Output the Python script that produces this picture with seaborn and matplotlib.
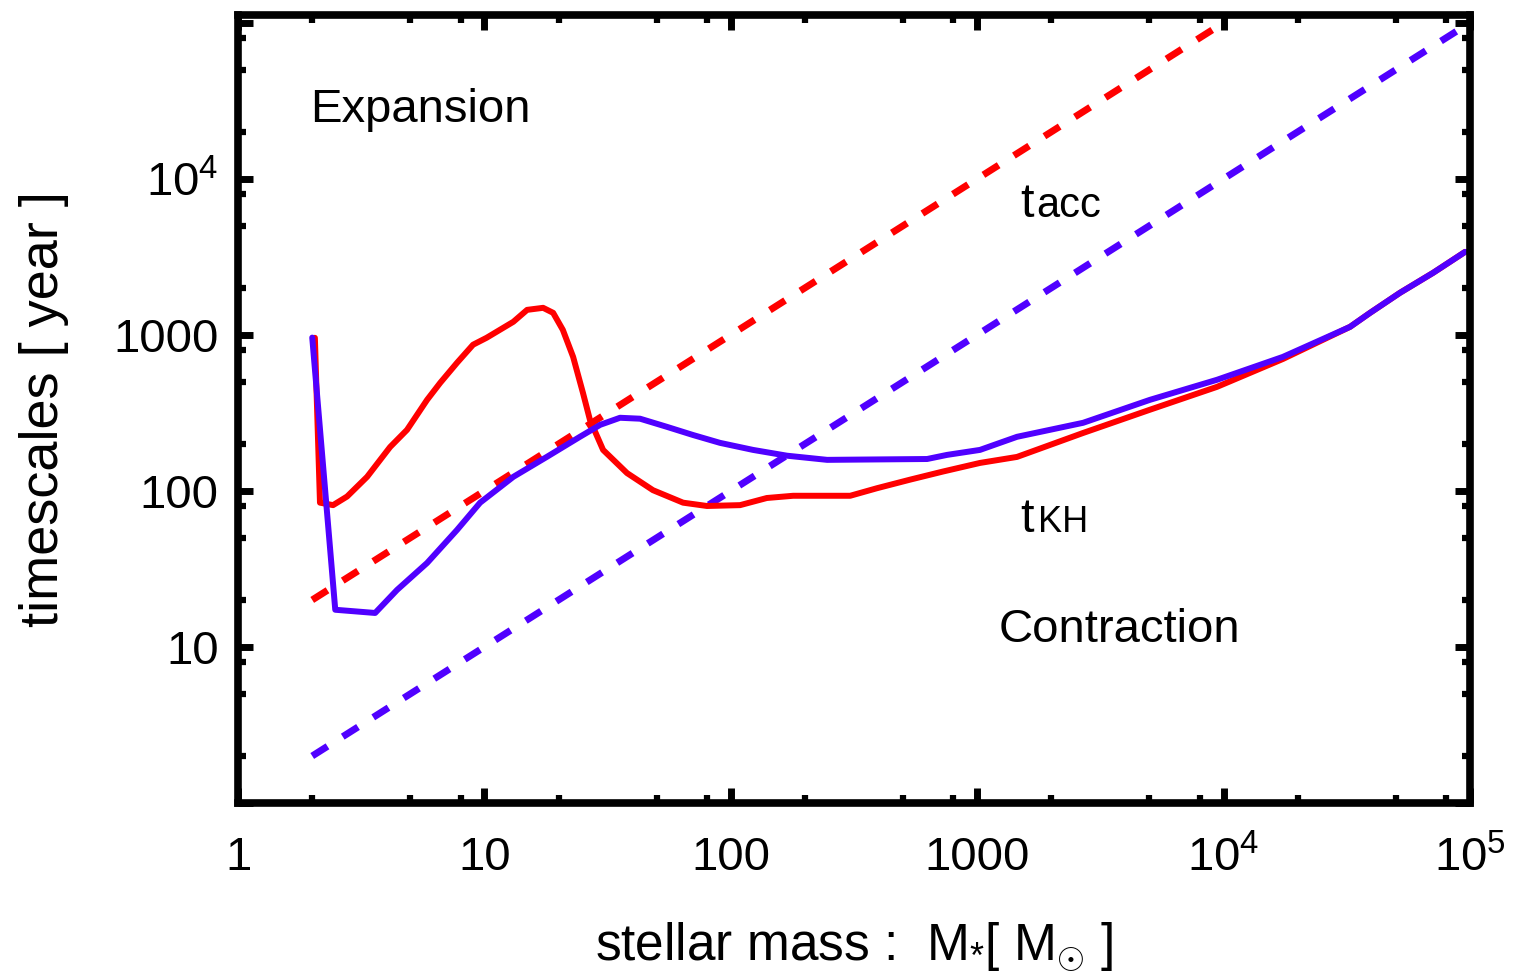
import numpy as np
import pandas as pd
import matplotlib
matplotlib.use("Agg")
import matplotlib.pyplot as plt
import seaborn as sns
from matplotlib.ticker import FixedLocator, FixedFormatter, NullFormatter

# stellar mass [Msun] vs timescales [yr]
# KH timescale, red run
red_mass = [2.05, 2.15, 2.43, 2.77, 3.34, 4.14, 4.85, 5.85, 6.61, 7.74, 8.99, 10.2,
            13.1, 14.9, 17.3, 19.0, 20.8, 22.9, 25.1, 26.8, 30.3, 37.9, 48.3, 64.0,
            80.0, 109, 140, 179, 305, 392, 534, 726, 1026, 1450, 2690, 5020, 9400,
            17400, 32600, 39300, 52000, 70800, 95500]
red_tkh = [957, 84, 81, 92, 123, 191, 246, 383, 492, 662, 864, 957,
           1212, 1445, 1489, 1383, 1076, 722, 425, 285, 183, 130, 101, 84,
           80, 81, 90, 93, 93, 104, 118, 133, 151, 165, 235, 331, 464,
           700, 1125, 1383, 1860, 2495, 3400]

# KH timescale, blue run
blue_mass = [2.0, 2.48, 3.60, 4.42, 5.85, 7.74, 9.60, 13.1, 17.9, 24.4, 29.5, 35.5,
             42.8, 55.1, 70.2, 90.4, 123, 169, 246, 626, 754, 1026, 1450, 2690,
             5020, 9400, 17400, 32600, 39300, 52000, 70800, 95500]
blue_tkh = [960, 17.3, 16.5, 23.2, 34.5, 56.2, 84, 123, 165, 222, 265, 294,
            290, 257, 228, 203, 183, 168, 158, 160, 170, 183, 222, 273,
            383, 515, 722, 1125, 1383, 1860, 2495, 3400]

# accretion timescales (dashed)
red_acc_mass = [2, 1e4]
red_tacc = [20, 1e5]
blue_acc_mass = [2, 1e5]
blue_tacc = [2, 1e5]

x_ticks = [1, 10, 100, 1000, 1e4, 1e5]
x_labels = ["1", "10", "100", "1000", r"$10^4$", r"$10^5$"]
y_ticks = [1, 10, 100, 1000, 1e4, 1e5]
y_labels = ["", "10", "100", "1000", r"$10^4$", ""]

RED = "#FF0000"
BLUE = "#5000FF"

sns.set_style("ticks")
plt.rcParams["font.family"] = ["Liberation Sans", "DejaVu Sans"]
plt.rcParams["mathtext.fontset"] = "custom"
plt.rcParams["mathtext.rm"] = "Liberation Sans"
plt.rcParams["mathtext.it"] = "Liberation Sans:italic"
plt.rcParams["mathtext.bf"] = "Liberation Sans:bold"
plt.rcParams["text.color"] = "black"
plt.rcParams["axes.labelcolor"] = "black"

fig = plt.figure(figsize=(15.3, 9.76), dpi=100)
ax = fig.add_axes([0.1556, 0.1773, 0.8052, 0.8073])

dash = (0, (2.6, 2.6))
sns.lineplot(x=red_acc_mass, y=red_tacc, ax=ax, color=RED, lw=5, linestyle=dash,
             sort=False, estimator=None)
sns.lineplot(x=blue_acc_mass, y=blue_tacc, ax=ax, color=BLUE, lw=5, linestyle=dash,
             sort=False, estimator=None)
sns.lineplot(x=red_mass, y=red_tkh, ax=ax, color=RED, lw=4.3,
             sort=False, estimator=None)
sns.lineplot(x=blue_mass, y=blue_tkh, ax=ax, color=BLUE, lw=4.3,
             sort=False, estimator=None)

ax.set_xscale("log")
ax.set_yscale("log")
ax.set_xlim(1, 1e5)
ax.set_ylim(1, 1.12e5)

ax.xaxis.set_major_locator(FixedLocator(x_ticks))
ax.xaxis.set_major_formatter(FixedFormatter(x_labels))
ax.yaxis.set_major_locator(FixedLocator(y_ticks))
ax.yaxis.set_major_formatter(FixedFormatter(y_labels))
minor = [m * 10 ** k for k in range(0, 5) for m in (2, 5, 8)]
ax.xaxis.set_minor_locator(FixedLocator(minor))
ax.yaxis.set_minor_locator(FixedLocator(minor))
ax.xaxis.set_minor_formatter(NullFormatter())
ax.yaxis.set_minor_formatter(NullFormatter())

ax.tick_params(which="both", direction="in", top=True, right=True,
               color="black", labelcolor="black")
ax.tick_params(which="major", length=11, width=5, labelsize=34)
ax.tick_params(which="minor", length=5.5, width=4.5)
ax.tick_params(axis="x", which="major", pad=24)
ax.tick_params(axis="y", which="major", pad=14)
for s in ax.spines.values():
    s.set_linewidth(5.5)
    s.set_color("black")

ax.set_xlabel(r"stellar mass :  M$_{*}$[ M$_{\odot}$ ]", fontsize=37, labelpad=28)
ax.set_ylabel("timescales [ year ]", fontsize=39, labelpad=32)

ax.text(0.0584, 0.864, "Expansion", transform=ax.transAxes, fontsize=34,
        va="baseline", ha="left")
ax.text(0.617, 0.204, "Contraction", transform=ax.transAxes, fontsize=34,
        va="baseline", ha="left")
ax.text(0.635, 0.744, "t", transform=ax.transAxes, fontsize=35, va="baseline")
ax.text(0.648, 0.744, "acc", transform=ax.transAxes, fontsize=30, va="baseline")
ax.text(0.635, 0.344, "t", transform=ax.transAxes, fontsize=35, va="baseline")
ax.text(0.649, 0.344, "KH", transform=ax.transAxes, fontsize=26, va="baseline")

fig.savefig("out.png", dpi=100)
